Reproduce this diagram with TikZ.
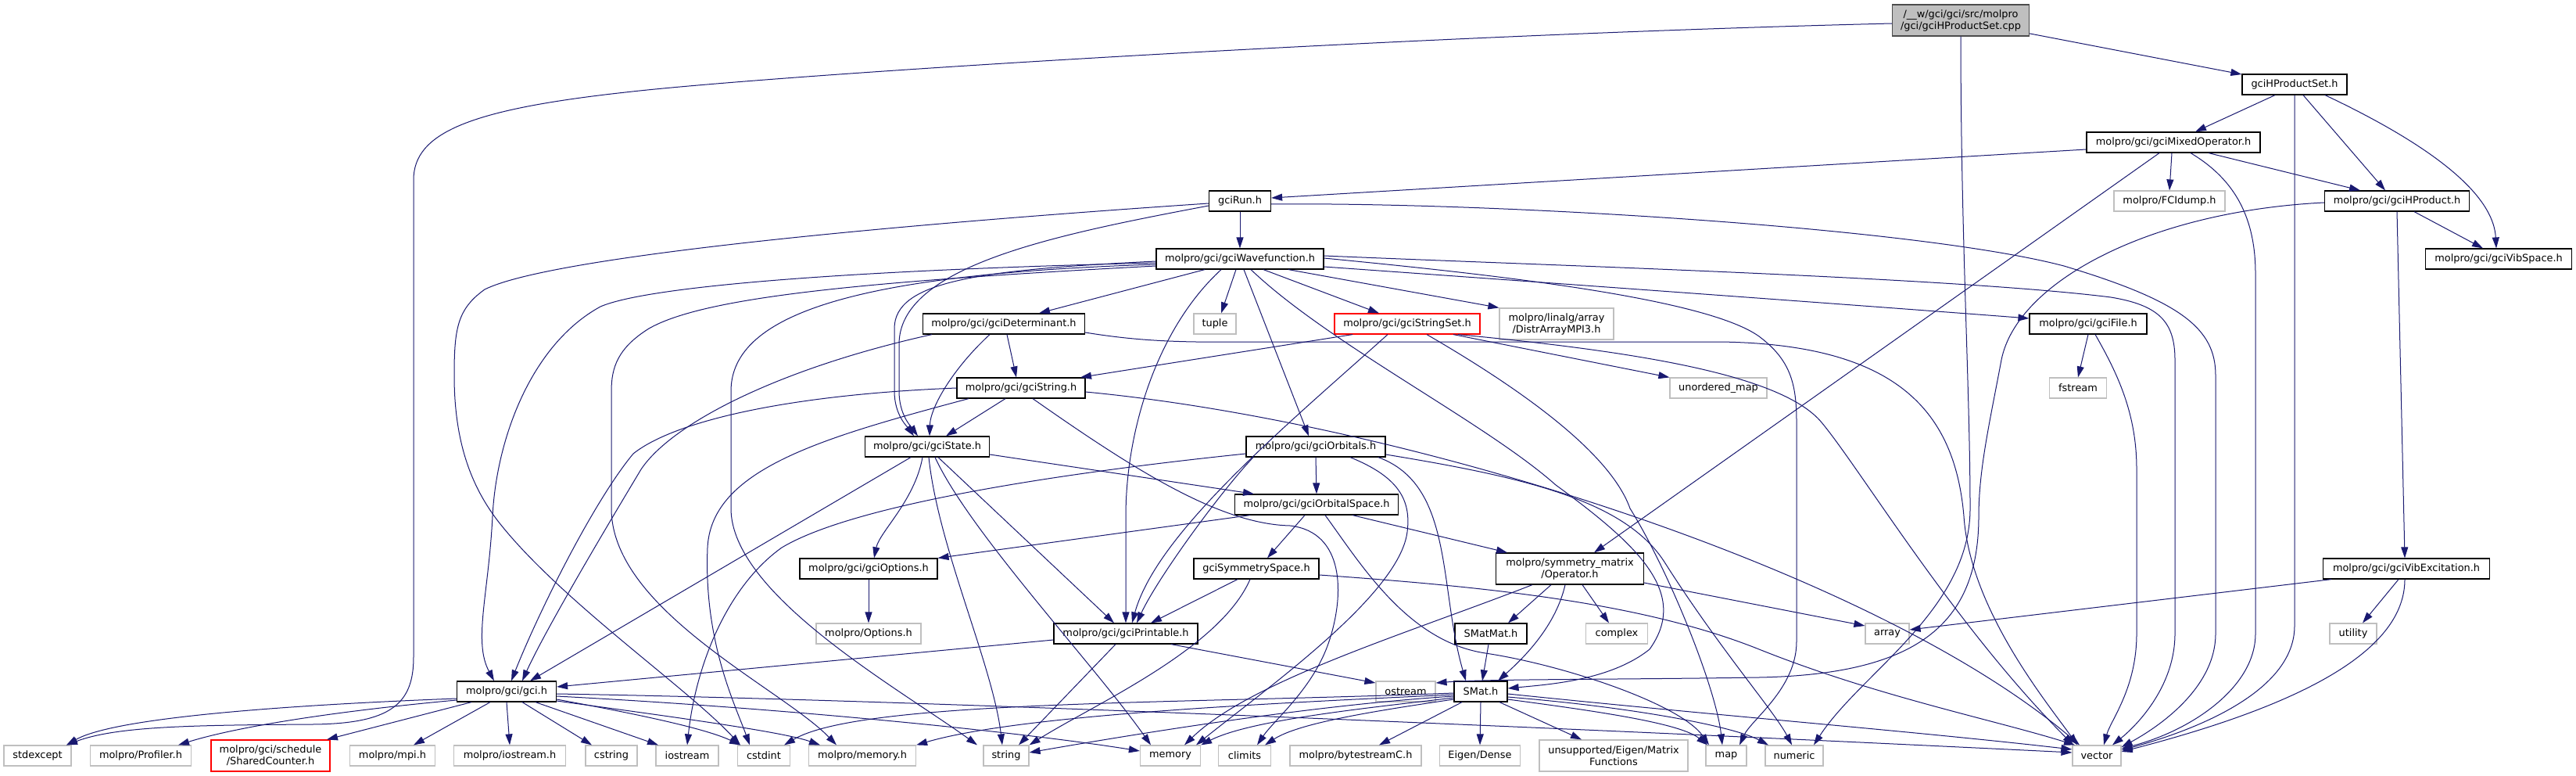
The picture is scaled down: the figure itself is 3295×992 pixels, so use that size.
\documentclass[tikz,border=0pt]{standalone}
\usepackage{fontspec}
\setmainfont{DejaVu Sans}
\usetikzlibrary{arrows.meta}
\definecolor{ec}{HTML}{191970}
\definecolor{gb}{HTML}{BFBFBF}
\begin{document}
\begin{tikzpicture}[x=1pt,y=-1pt,
 nbase/.style={rectangle, line width=1.2pt, minimum height=26pt, inner sep=2pt, align=center, font=\fontsize{12.9pt}{15pt}\selectfont},
 nb/.style={nbase, draw=black},
 ng/.style={nbase, draw=gb},
 nr/.style={nbase, draw=red},
 edg/.style={draw=ec, line width=1pt, -{Triangle[length=14pt,width=9pt]}},
]
\useasboundingbox (0,0) rectangle (3295,992);
\fill[white] (0,0) rectangle (3295,992);
% nodes
\node[nb, fill=gb, draw=black!70, minimum width=175pt, minimum height=40pt] (root) at (2508,26) {/\_\_w/gci/gci/src/molpro\\/gci/gciHProductSet.cpp};
\node[nb, minimum width=134pt] (HPS) at (2935,108) {gciHProductSet.h};
\node[nb, minimum width=222pt] (MixOp) at (2780,182) {molpro/gci/gciMixedOperator.h};
\node[ng, minimum width=142pt] (FCI) at (2775,257) {molpro/FCIdump.h};
\node[nb, minimum width=185pt] (HProd) at (3066,257) {molpro/gci/gciHProduct.h};
\node[nb, minimum width=187pt] (VibSp) at (3196,331) {molpro/gci/gciVibSpace.h};
\node[nb, minimum width=79pt] (Run) at (1586,257) {gciRun.h};
\node[nb, minimum width=214pt] (Wave) at (1586,331) {molpro/gci/gciWavefunction.h};
\node[nb, minimum width=207pt] (Det) at (1284,414) {molpro/gci/gciDeterminant.h};
\node[ng, minimum width=54pt] (tuple) at (1554,414) {tuple};
\node[nr, minimum width=186pt] (SSet) at (1800,414) {molpro/gci/gciStringSet.h};
\node[ng, minimum width=146pt, minimum height=40pt] (Distr) at (1991,414) {molpro/linalg/array\\/DistrArrayMPI3.h};
\node[nb, minimum width=150pt] (File) at (2671,414) {molpro/gci/gciFile.h};
\node[ng, minimum width=124pt] (unord) at (2198,496) {unordered\_map};
\node[ng, minimum width=73pt] (fstream) at (2658,496) {fstream};
\node[nb, minimum width=164pt] (String) at (1306,496) {molpro/gci/gciString.h};
\node[nb, minimum width=159pt] (State) at (1186,571) {molpro/gci/gciState.h};
\node[nb, minimum width=178pt] (Orb) at (1683,571) {molpro/gci/gciOrbitals.h};
\node[nb, minimum width=209pt] (OrbSp) at (1684,645) {molpro/gci/gciOrbitalSpace.h};
\node[nb, minimum width=176pt] (Opts) at (1111,727) {molpro/gci/gciOptions.h};
\node[ng, minimum width=134pt] (Options) at (1111,810) {molpro/Options.h};
\node[nb, minimum width=160pt] (SymSp) at (1607,727) {gciSymmetrySpace.h};
\node[nb, minimum width=189pt, minimum height=40pt] (Oper) at (2008,727) {molpro/symmetry\_matrix\\/Operator.h};
\node[nb, minimum width=213pt] (VibEx) at (3078,727) {molpro/gci/gciVibExcitation.h};
\node[nb, minimum width=184pt] (Print) at (1440,810) {molpro/gci/gciPrintable.h};
\node[nb, minimum width=92pt] (SMatMat) at (1907,810) {SMatMat.h};
\node[ng, minimum width=79pt] (complex) at (2068,810) {complex};
\node[ng, minimum width=56pt] (array) at (2414,810) {array};
\node[ng, minimum width=60pt] (utility) at (3010,810) {utility};
\node[nb, minimum width=127pt] (gci) at (648,884) {molpro/gci/gci.h};
\node[ng, minimum width=76pt] (ostream) at (1798,884) {ostream};
\node[nb, minimum width=68pt] (SMat) at (1894,884) {SMat.h};
\node[ng, minimum width=86pt] (stdexcept) at (48,966) {stdexcept};
\node[ng, minimum width=129pt] (Profiler) at (180,966) {molpro/Profiler.h};
\node[nr, minimum width=152pt, minimum height=40pt] (Shared) at (346,966) {molpro/gci/schedule\\/SharedCounter.h};
\node[ng, minimum width=109pt] (mpi) at (502,966) {molpro/mpi.h};
\node[ng, minimum width=143pt] (iostreamh) at (652,966) {molpro/iostream.h};
\node[ng, minimum width=66pt] (cstring) at (782,966) {cstring};
\node[ng, minimum width=80pt] (iostream) at (879,966) {iostream};
\node[ng, minimum width=67pt] (cstdint) at (977,966) {cstdint};
\node[ng, minimum width=137pt] (memoryh) at (1103,966) {molpro/memory.h};
\node[ng, minimum width=58pt] (string) at (1287,966) {string};
\node[ng, minimum width=77pt] (memory) at (1497,966) {memory};
\node[ng, minimum width=67pt] (climits) at (1592,966) {climits};
\node[ng, minimum width=168pt] (bytestream) at (1734,966) {molpro/bytestreamC.h};
\node[ng, minimum width=103pt] (Eigen) at (1893,966) {Eigen/Dense};
\node[ng, minimum width=190pt, minimum height=40pt] (unsupported) at (2064,966) {unsupported/Eigen/Matrix\\Functions};
\node[ng, minimum width=52pt] (map) at (2208,966) {map};
\node[ng, minimum width=74pt] (numeric) at (2295,966) {numeric};
\node[ng, minimum width=62pt] (vector) at (2682,966) {vector};
% root
\draw[edg] (root) -- (HPS);
\draw[edg] ([yshift=-4pt]root.west) .. controls (1800,45) and (1000,95) .. (800,118) .. controls (600,140) and (529,170) .. (529,230) -- (529,840) .. controls (529,900) and (500,925) .. (400,926) .. controls (250,927) and (150,928) .. ([xshift=37pt]stdexcept.north);
\draw[edg] (root.south) .. controls (2508,300) and (2520,500) .. (2520,650) .. controls (2520,780) and (2380,860) .. ([xshift=25pt]numeric.north);
% HPS
\draw[edg] ([xshift=-25pt]HPS.south) -- ([xshift=28pt]MixOp.north);
\draw[edg] ([xshift=11pt]HPS.south) -- ([xshift=-15pt]HProd.north);
\draw[edg] ([xshift=39pt]HPS.south) .. controls (3140,200) and (3190,260) .. ([xshift=-3pt]VibSp.north);
\draw[edg] (HPS.south) -- (2935,800) .. controls (2935,880) and (2820,930) .. ([yshift=7pt]vector.east);
% MixOp
\draw[edg] ([yshift=-9pt]MixOp.west) -- ([yshift=4pt]Run.east);
\draw[edg] ([xshift=-2pt]MixOp.south) -- (FCI.north);
\draw[edg] ([xshift=45pt]MixOp.south) -- ([xshift=-47pt]HProd.north);
\draw[edg] ([xshift=-18pt]MixOp.south) -- ([xshift=31pt]Oper.north);
\draw[edg] ([xshift=22pt]MixOp.south) .. controls (2860,230) and (2885,280) .. (2885,350) -- (2885,810) .. controls (2885,880) and (2800,935) .. ([yshift=9pt]vector.east);
% HProd
\draw[edg] ([xshift=22pt]HProd.south) -- ([xshift=-20pt]VibSp.north);
\draw[edg] (HProd.south) -- ([xshift=-2pt]VibEx.north);
\draw[edg] ([yshift=-2pt]HProd.west) .. controls (2750,270) and (2580,360) .. (2560,460) .. controls (2545,540) and (2531,600) .. (2531,660) .. controls (2531,800) and (2450,862) .. (2250,866) .. controls (2050,869) and (1900,868) .. ([yshift=11pt]ostream.east);
% Run
\draw[edg] (Run.south) -- (Wave.north);
\draw[edg] ([yshift=-6pt]Run.west) .. controls (1350,300) and (1150,340) .. (1150,440) -- (1150,500) .. controls (1150,530) and (1165,545) .. ([xshift=-12pt]State.north);
\draw[edg] ([yshift=-3pt]Run.west) .. controls (1100,290) and (700,330) .. (620,370) .. controls (585,395) and (581,420) .. (581,480) .. controls (581,560) and (600,620) .. (640,670) .. controls (720,770) and (880,880) .. ([xshift=-30pt]cstdint.north);
\draw[edg] ([yshift=-4pt]Run.east) .. controls (1900,258) and (2450,290) .. (2640,340) .. controls (2790,385) and (2834,420) .. (2834,480) -- (2834,810) .. controls (2834,880) and (2760,930) .. ([yshift=11pt]vector.east);
% Wave
\draw[edg] ([yshift=-5pt]Wave.west) .. controls (1100,345) and (830,365) .. (768,392) .. controls (680,440) and (635,560) .. (630,660) .. controls (625,760) and (605,820) .. ([xshift=-16pt]gci.north);
\draw[edg] ([yshift=-9pt]Wave.west) .. controls (1100,360) and (900,380) .. (830,420) .. controls (790,445) and (782,470) .. (782,500) -- (782,650) .. controls (782,780) and (1000,880) .. ([xshift=-33pt]memoryh.north);
\draw[edg] ([yshift=-7pt]Wave.west) .. controls (1100,350) and (935,400) .. (935,500) -- (935,650) .. controls (935,760) and (1150,880) .. ([xshift=-37pt]string.north);
\draw[edg] ([yshift=-3pt]Wave.west) .. controls (1250,345) and (1144,360) .. (1144,420) -- (1144,500) .. controls (1144,530) and (1160,545) .. ([xshift=-17pt]State.north);
\draw[edg] ([xshift=-45pt]Wave.south) -- ([xshift=45pt]Det.north);
\draw[edg] ([xshift=-5pt]Wave.south) -- ([xshift=8pt]tuple.north);
\draw[edg] ([xshift=-24pt]Wave.south) .. controls (1480,420) and (1440,550) .. (1440,660) -- (Print.north);
\draw[edg] ([xshift=5pt]Wave.south) -- ([xshift=-9pt]Orb.north);
\draw[edg] ([xshift=30pt]Wave.south) -- ([xshift=-36pt]SSet.north);
\draw[edg] ([xshift=62pt]Wave.south) -- (Distr.north west);
\draw[edg] ([yshift=-10pt]Wave.east) .. controls (2100,370) and (2400,392) .. ([yshift=7pt]File.west);
\draw[edg] ([yshift=4pt]Wave.east) .. controls (2000,340) and (2500,355) .. (2700,380) .. controls (2760,390) and (2782,410) .. (2782,460) -- (2782,810) .. controls (2782,880) and (2730,930) .. ([xshift=20pt]vector.north);
\draw[edg] ([yshift=1pt]Wave.east) .. controls (1900,350) and (2180,380) .. (2250,430) .. controls (2290,460) and (2298,490) .. (2298,540) -- (2298,820) .. controls (2298,880) and (2240,920) .. ([xshift=17pt]map.north);
\draw[edg] ([xshift=14pt]Wave.south) .. controls (1700,440) and (1900,540) .. (1990,620) .. controls (2100,700) and (2160,760) .. (2110,830) .. controls (2060,870) and (1980,875) .. ([yshift=4pt]SMat.east);
% Det
\draw[edg] ([xshift=4pt]Det.south) -- ([xshift=-6pt]String.north);
\draw[edg] ([xshift=-18pt]Det.south) .. controls (1220,470) and (1190,520) .. ([xshift=3pt]State.north);
\draw[edg] ([xshift=-92pt]Det.south) .. controls (1000,470) and (860,540) .. (820,600) .. controls (790,650) and (700,800) .. ([xshift=20pt]gci.north);
\draw[edg] ([yshift=-11pt]Det.east) .. controls (1480,440) and (1540,437) .. (1650,437) -- (2200,437) .. controls (2420,440) and (2500,520) .. (2512,660) .. controls (2520,780) and (2620,900) .. ([xshift=-25pt]vector.north);
% SSet
\draw[edg] ([xshift=-70pt]SSet.south) -- ([xshift=76pt]String.north);
\draw[edg] ([xshift=-25pt]SSet.south) .. controls (1650,540) and (1480,680) .. ([xshift=8pt]Print.north);
\draw[edg] ([xshift=59pt]SSet.south) -- (unord.north west);
\draw[edg] ([xshift=25pt]SSet.south) .. controls (1950,500) and (2060,580) .. (2085,650) .. controls (2135,730) and (2195,880) .. ([xshift=-5pt]map.north);
\draw[edg] ([xshift=65pt]SSet.south) .. controls (2100,450) and (2280,480) .. (2330,540) .. controls (2380,600) and (2500,800) .. ([xshift=-30pt]vector.north);
% File
\draw[edg] (File.south) -- (fstream.north);
\draw[edg] ([xshift=9pt]File.south) .. controls (2710,480) and (2733,530) .. (2733,600) -- (2733,810) .. controls (2733,880) and (2700,920) .. ([xshift=9pt]vector.north);
% String
\draw[edg] ([xshift=-20pt]String.south) -- ([xshift=24pt]State.north);
\draw[edg] (String.west) .. controls (1000,505) and (860,540) .. (810,580) .. controls (760,640) and (690,780) .. ([xshift=6pt]gci.north);
\draw[edg] ([xshift=-67pt]String.south) .. controls (1050,560) and (910,600) .. (905,700) .. controls (900,820) and (940,900) .. ([xshift=-18pt]cstdint.north);
\draw[edg] ([yshift=-5pt]String.east) .. controls (1800,540) and (2400,730) .. ([xshift=-22pt]vector.north);
\draw[edg] ([xshift=15pt]String.south) .. controls (1450,600) and (1560,670) .. (1650,672) .. controls (1720,680) and (1720,760) .. (1700,820) .. controls (1680,880) and (1630,920) .. ([xshift=16pt]climits.north);
% State
\draw[edg] ([xshift=-21pt]State.south) -- ([xshift=30pt]gci.north);
\draw[edg] ([xshift=-6pt]State.south) .. controls (1170,640) and (1125,680) .. ([xshift=7pt]Opts.north);
\draw[edg] ([xshift=2pt]State.south) .. controls (1200,700) and (1270,850) .. ([xshift=-5pt]string.north);
\draw[edg] ([xshift=10pt]State.south) .. controls (1240,680) and (1400,850) .. ([xshift=-25pt]memory.north);
\draw[edg] ([xshift=14pt]State.south) -- ([xshift=-15pt]Print.north);
\draw[edg] ([yshift=-10pt]State.east) -- ([xshift=-80pt]OrbSp.north);
% Orb
\draw[edg] (Orb.south) -- (OrbSp.north);
\draw[edg] ([yshift=-9pt]Orb.west) .. controls (1400,600) and (1100,640) .. (1000,700) .. controls (930,750) and (890,850) .. (iostream.north);
\draw[edg] ([xshift=-80pt]Orb.south) .. controls (1560,630) and (1480,740) .. ([xshift=14pt]Print.north);
\draw[edg] ([xshift=80pt]Orb.south) .. controls (1860,620) and (1840,750) .. ([xshift=-19pt]SMat.north);
\draw[edg] ([xshift=44pt]Orb.south) .. controls (1790,610) and (1805,640) .. (1800,680) .. controls (1790,760) and (1620,880) .. ([xshift=33pt]memory.north);
\draw[edg] ([yshift=-10pt]Orb.east) .. controls (1950,610) and (2080,640) .. (2130,720) .. controls (2200,830) and (2270,910) .. ([xshift=-3pt]numeric.north);
% OrbSp
\draw[edg] ([xshift=-15pt]OrbSp.south) -- ([xshift=14pt]SymSp.north);
\draw[edg] ([xshift=46pt]OrbSp.south) -- ([xshift=-80pt]Oper.north);
\draw[edg] ([xshift=11pt]OrbSp.south) .. controls (1740,720) and (1800,820) .. (1900,835) .. controls (2000,850) and (2150,900) .. ([xshift=-22pt]map.north);
\draw[edg] ([xshift=-85pt]OrbSp.south) -- (Opts.north east);
% SymSp
\draw[edg] ([xshift=-24pt]SymSp.south) -- ([xshift=32pt]Print.north);
\draw[edg] ([xshift=-8pt]SymSp.south) .. controls (1560,830) and (1400,900) .. (string.north east);
\draw[edg] ([yshift=-8pt]SymSp.east) .. controls (1900,750) and (2100,770) .. (2250,830) .. controls (2400,890) and (2550,920) .. ([xshift=-28pt]vector.north);
% Print
\draw[edg] ([yshift=-8pt]Print.west) -- ([yshift=6pt]gci.east);
\draw[edg] ([xshift=-13pt]Print.south) -- ([xshift=16pt]string.north);
\draw[edg] ([xshift=58pt]Print.south) -- ([yshift=11pt]ostream.west);
% Opts
\draw[edg] (Opts.south) -- (Options.north);
% Oper
\draw[edg] ([xshift=-24pt]Oper.south) -- ([xshift=22pt]SMatMat.north);
\draw[edg] ([xshift=16pt]Oper.south) -- ([xshift=-10pt]complex.north);
\draw[edg] ([yshift=-18pt]Oper.east) -- ([yshift=10pt]array.west);
\draw[edg] ([xshift=-6pt]Oper.south) .. controls (1990,800) and (1950,840) .. ([xshift=22pt]SMat.north);
\draw[edg] ([xshift=-48pt]Oper.south) .. controls (1800,810) and (1600,870) .. ([xshift=18pt]memory.north);
% VibEx
\draw[edg] ([xshift=-96pt]VibEx.south) -- ([yshift=5pt]array.east);
\draw[edg] ([xshift=-10pt]VibEx.south) -- ([xshift=12pt]utility.north);
\draw[edg] ([xshift=-2pt]VibEx.south) .. controls (3076,830) and (2950,900) .. ([yshift=5pt]vector.east);
% SMatMat
\draw[edg] ([xshift=-3pt]SMatMat.south) -- ([xshift=2pt]SMat.north);
% SMat
\draw[edg] ([yshift=-3pt]SMat.east) .. controls (2200,915) and (2450,935) .. ([yshift=8pt]vector.west);
\draw[edg] ([yshift=-7pt]SMat.east) .. controls (2100,905) and (2220,930) .. ([xshift=-33pt]numeric.north);
\draw[edg] ([yshift=-10pt]SMat.east) .. controls (2050,910) and (2150,925) .. ([xshift=-24pt]map.north);
\draw[edg] ([xshift=24pt]SMat.south) -- ([xshift=-41pt]unsupported.north);
\draw[edg] (SMat.south) -- (Eigen.north);
\draw[edg] ([xshift=-24pt]SMat.south) -- ([xshift=30pt]bytestream.north);
\draw[edg] ([yshift=-10pt]SMat.west) .. controls (1750,910) and (1660,925) .. ([xshift=26pt]climits.north);
\draw[edg] ([yshift=-8pt]SMat.west) .. controls (1750,905) and (1600,920) .. (memory.north east);
\draw[edg] ([yshift=-6pt]SMat.west) .. controls (1700,900) and (1500,930) .. ([yshift=4pt]string.east);
\draw[edg] ([yshift=-4pt]SMat.west) .. controls (1600,900) and (1300,915) .. (memoryh.north east);
\draw[edg] ([yshift=-2pt]SMat.west) .. controls (1500,900) and (1100,895) .. ([xshift=26pt]cstdint.north);
% gci
\draw[edg] ([yshift=-9pt]gci.west) .. controls (400,900) and (150,915) .. ([xshift=37pt]stdexcept.north);
\draw[edg] ([yshift=-11pt]gci.west) .. controls (420,910) and (300,930) .. ([xshift=48pt]Profiler.north);
\draw[edg] ([xshift=-45pt]gci.south) -- ([xshift=72pt]Shared.north);
\draw[edg] ([xshift=-21pt]gci.south) -- ([xshift=27pt]mpi.north);
\draw[edg] (gci.south) -- (iostreamh.north);
\draw[edg] ([xshift=20pt]gci.south) -- ([xshift=-25pt]cstring.north);
\draw[edg] ([xshift=37pt]gci.south) -- ([xshift=-37pt]iostream.north);
\draw[edg] ([yshift=-3pt]gci.east) .. controls (1200,895) and (2100,935) .. ([yshift=4pt]vector.west);
\draw[edg] ([yshift=-6pt]gci.east) .. controls (1000,905) and (1300,935) .. ([yshift=6pt]memory.west);
\draw[edg] ([yshift=-10pt]gci.east) .. controls (800,910) and (900,930) .. ([xshift=-30pt]cstdint.north);
\draw[edg] ([yshift=-12pt]gci.east) .. controls (850,915) and (1000,935) .. ([xshift=-54pt]memoryh.north);
\end{tikzpicture}
\end{document}
